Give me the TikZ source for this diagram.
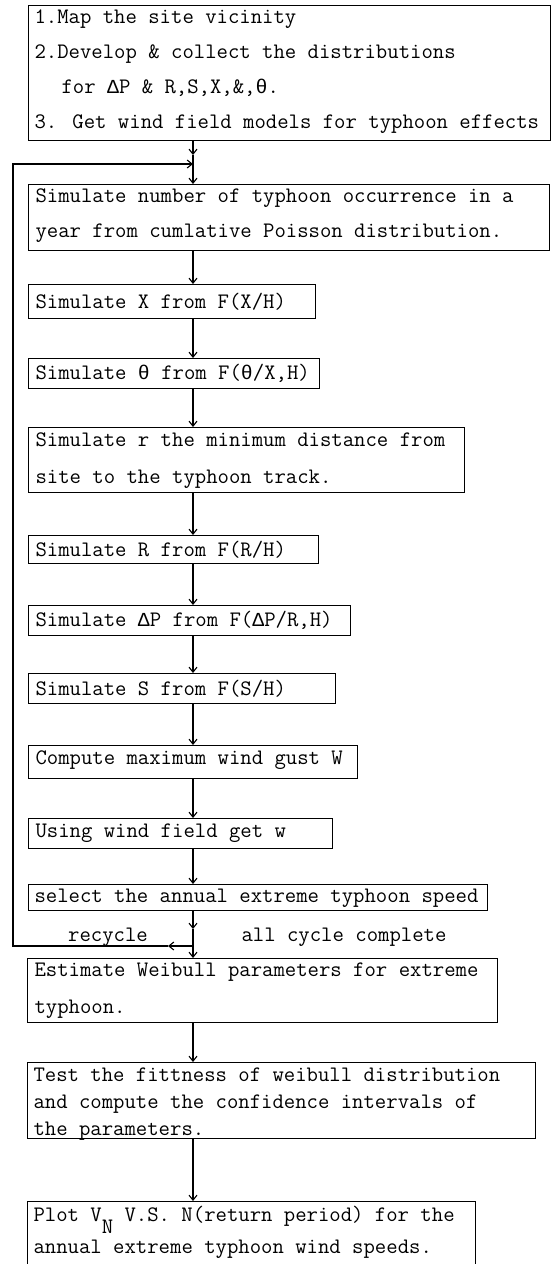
\documentclass[tikz,border=0pt]{standalone}
\usepackage{fontspec}
\newfontfamily\grk[Scale=0.9]{Liberation Mono}
\usetikzlibrary{arrows.meta}
\newcommand{\dP}{{\grk Δ}}
\newcommand{\thq}{{\grk θ}}
\begin{document}
\begin{tikzpicture}[x=1pt,y=-1pt,line width=1.1pt,
  box/.style={draw,rectangle,inner sep=0pt,anchor=north west},
  txt/.style={anchor=west,align=left,inner sep=0pt,font=\ttfamily\fontsize{22.1}{35}\selectfont},
  lbl/.style={inner sep=0pt,font=\ttfamily\fontsize{22.1}{23}\selectfont},
  arr/.style={-{Straight Barb[length=5pt,width=8pt]}},
]
\useasboundingbox (0,0) rectangle (553,1264);
\clip (0,0) rectangle (553,1264);
\coordinate (m) at (193,0);

% boxes
\node[box,minimum width=522pt,minimum height=135pt] (b1) at (28,5) {};
\node[box,minimum width=521pt,minimum height=66pt] (b2) at (28,184) {};
\node[box,minimum width=287pt,minimum height=34pt] (b3) at (28,284) {};
\node[box,minimum width=291pt,minimum height=30pt] (b4) at (28,358) {};
\node[box,minimum width=436pt,minimum height=65pt] (b5) at (28,427) {};
\node[box,minimum width=290pt,minimum height=28pt] (b6) at (28,535) {};
\node[box,minimum width=322pt,minimum height=30pt] (b7) at (28,605) {};
\node[box,minimum width=307pt,minimum height=30pt] (b8) at (28,673) {};
\node[box,minimum width=329pt,minimum height=33pt] (b9) at (28,745) {};
\node[box,minimum width=304pt,minimum height=30pt] (b10) at (28,818) {};
\node[box,minimum width=459pt,minimum height=26pt] (b11) at (28,884) {};
\node[box,minimum width=470pt,minimum height=64pt] (b12) at (27,958) {};
\node[box,minimum width=508pt,minimum height=76pt] (b13) at (27,1062) {};
\node[box,minimum width=448pt,minimum height=80pt] (b14) at (27,1201) {};

% texts
\node[txt] (t1) at (34,72) {1.Map the site vicinity\\2.Develop \& collect the distributions\\\hspace*{27pt}for \dP P \& R,S,X,\&,\thq.\\3. Get wind field models for typhoon effects};
\node[txt] (t2) at (35,216) {Simulate number of typhoon occurrence in a\\year from cumlative Poisson distribution.};
\node[txt] (t3) at (35,302) {Simulate X from F(X/H)};
\node[txt] (t4) at (35,373) {Simulate \thq\ from F(\thq/X,H)};
\node[txt,font=\ttfamily\fontsize{22.1}{37}\selectfont] (t5) at (35,461) {Simulate r the minimum distance from\\site to the typhoon track.};
\node[txt] (t6) at (35,550) {Simulate R from F(R/H)};
\node[txt] (t7) at (35,620) {Simulate \dP P from F(\dP P/R,H)};
\node[txt] (t8) at (35,689) {Simulate S from F(S/H)};
\node[txt] (t9) at (35,760) {Compute maximum wind gust W};
\node[txt] (t10) at (35,833) {Using wind field get w};
\node[txt] (t11) at (34,898) {select the annual extreme typhoon speed};
\node[txt,font=\ttfamily\fontsize{22.1}{37}\selectfont] (t12) at (34,991) {Estimate Weibull parameters for extreme\\typhoon.};
\node[txt,font=\ttfamily\fontsize{22.1}{27}\selectfont] (t13) at (33,1104) {Test the fittness of weibull distribution\\and compute the confidence intervals of\\the parameters.};
\node[txt,font=\ttfamily\fontsize{22.1}{32}\selectfont] (t14) at (33,1232) {Plot V\raisebox{-0.55em}{N} V.S. N(return period) for the\\annual extreme typhoon wind speeds.};

% labels
\node[lbl] (rl) at (108,937) {recycle};
\node[lbl] (cl) at (344,937) {all cycle complete};

% junction coordinates
\coordinate (a0) at (193,155);
\coordinate (j1) at (193,164);
\coordinate (a1) at (193,929);
\coordinate (j2) at (193,946);
\coordinate (rc) at (168,946);
\coordinate (ll) at (13,946);
\coordinate (lu) at (13,164);

% main flow
\draw[arr] (b1.south -| m) -- (a0);
\draw[arr] (a0) -- (b2.north -| m);
\draw[arr] (b2.south -| m) -- (b3.north -| m);
\draw[arr] (b3.south -| m) -- (b4.north -| m);
\draw[arr] (b4.south -| m) -- (b5.north -| m);
\draw[arr] (b5.south -| m) -- (b6.north -| m);
\draw[arr] (b6.south -| m) -- (b7.north -| m);
\draw[arr] (b7.south -| m) -- (b8.north -| m);
\draw[arr] (b8.south -| m) -- (b9.north -| m);
\draw[arr] (b9.south -| m) -- (b10.north -| m);
\draw[arr] (b10.south -| m) -- (b11.north -| m);
\draw[arr] (b11.south -| m) -- (a1);
\draw[arr] (a1) -- (b12.north -| m);
\draw[arr] (b12.south -| m) -- (b13.north -| m);
\draw[arr] (b13.south -| m) -- (b14.north -| m);

% recycle loop
\draw[arr] (j2) -- (rc);
\draw[arr] (rc) -- (ll) -- (lu) -- (j1);
\end{tikzpicture}
\end{document}
